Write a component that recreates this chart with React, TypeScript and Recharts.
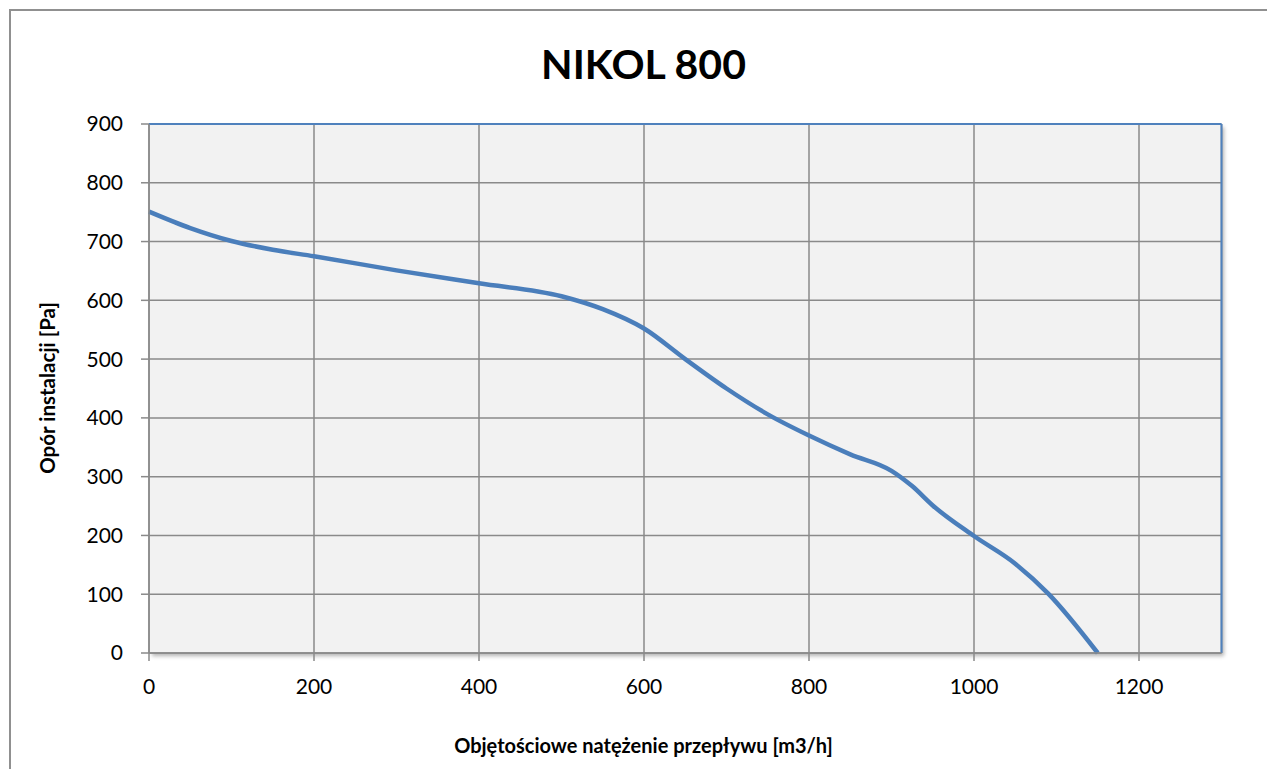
import {
  LineChart,
  Line,
  XAxis,
  YAxis,
  CartesianGrid,
  ReferenceLine,
} from "recharts";

// flow [m3/h] and pressure [Pa]
const flow = [0, 50, 100, 150, 200, 300, 400, 500, 550, 600, 650, 700, 750, 800, 850, 900, 925, 950, 1000, 1050, 1090, 1150];
const pressure = [751, 723, 701, 686, 675, 651, 629, 607, 585, 552, 500, 450, 406, 370, 338, 310, 284, 251, 199, 152, 101, 0];

const xTicks = [0, 200, 400, 600, 800, 1000, 1200];
const yTicks = [0, 100, 200, 300, 400, 500, 600, 700, 800, 900];

const data = flow.map((q, i) => ({ q, p: pressure[i] }));

const FONT = "Lato, 'Open Sans', sans-serif";
const GRID = "#8a8a8a";
const BLUE = "#4f81bd";

export default function App() {
  return (
    <div
      style={{
        position: "absolute",
        left: 0,
        top: 0,
        width: 1267,
        height: 769,
        background: "#fff",
        overflow: "hidden",
        fontFamily: FONT,
      }}
    >
      {/* outer chart frame */}
      <div
        style={{
          position: "absolute",
          left: 9,
          top: 9,
          width: 1300,
          height: 800,
          border: "2px solid #909090",
        }}
      />
      {/* plot area shadow */}
      <div
        style={{
          position: "absolute",
          left: 149,
          top: 124,
          width: 1072,
          height: 529,
          boxShadow: "3px 3px 4px rgba(0,0,0,0.3)",
        }}
      />
      <div
        style={{
          position: "absolute",
          left: 0,
          top: 39,
          width: 1287,
          textAlign: "center",
          fontSize: 41,
          fontWeight: 700,
          color: "#000",
        }}
      >
        NIKOL 800
      </div>
      <div
        style={{
          position: "absolute",
          left: 0,
          top: 733,
          width: 1287,
          textAlign: "center",
          fontSize: 20,
          fontWeight: 700,
          color: "#000",
        }}
      >
        Objętościowe natężenie przepływu [m3/h]
      </div>
      <div
        style={{
          position: "absolute",
          left: 47,
          top: 388,
          transform: "translate(-50%, -50%) rotate(-90deg)",
          whiteSpace: "nowrap",
          fontSize: 20.5,
          fontWeight: 700,
          color: "#000",
        }}
      >
        Opór instalacji [Pa]
      </div>
      <div style={{ position: "absolute", left: 0, top: 0 }}>
        <LineChart
          width={1267}
          height={769}
          data={data}
          margin={{ top: 124, right: 45.5, left: 89, bottom: 76 }}
        >
          <CartesianGrid stroke={GRID} strokeWidth={1.5} fill="#f2f2f2" />
          <XAxis
            dataKey="q"
            type="number"
            domain={[0, 1300]}
            ticks={xTicks}
            height={40}
            stroke={GRID}
            strokeWidth={1.5}
            tickSize={8}
            tickMargin={18}
            tick={{ fill: "#000", fontSize: 21, fontFamily: FONT }}
          />
          <YAxis
            dataKey="p"
            type="number"
            domain={[0, 900]}
            ticks={yTicks}
            width={60}
            stroke={GRID}
            strokeWidth={1.5}
            tickSize={8}
            tickMargin={18}
            tick={{ fill: "#000", fontSize: 21, fontFamily: FONT }}
          />
          <ReferenceLine y={900} stroke={BLUE} strokeWidth={2} />
          <ReferenceLine x={1300} stroke={BLUE} strokeWidth={2} />
          <Line
            type="monotone"
            dataKey="p"
            stroke="#4a7ebb"
            strokeWidth={4.5}
            dot={false}
            activeDot={false}
            isAnimationActive={false}
          />
        </LineChart>
      </div>
    </div>
  );
}
